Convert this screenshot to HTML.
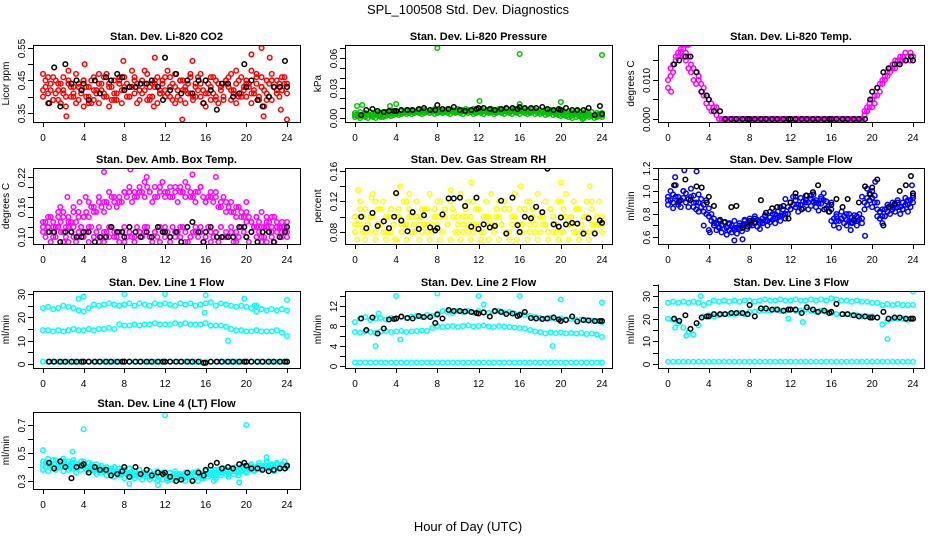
<!DOCTYPE html>
<html><head><meta charset="utf-8"><style>
html,body{margin:0;padding:0;background:#fff;}
svg{display:block;font-family:"Liberation Sans",Arial,sans-serif;}
</style></head><body>
<svg id="chart" width="936" height="540" viewBox="0 0 936 540">
<rect width="936" height="540" fill="#fff"/>
<text x="468" y="14" text-anchor="middle" font-size="13">SPL_100508  Std. Dev. Diagnostics</text>
<text x="468" y="531" text-anchor="middle" font-size="13">Hour of Day (UTC)</text>
</svg>
<script>
// shared black-point hours
const blackHours=[0.6,1.1,1.7,2.2,2.8,3.3,3.8,4.0,4.5,5.1,5.6,6.2,6.7,7.3,7.8,8.0,8.5,9.1,9.6,10.2,10.7,11.3,11.8,12.0,12.5,13.1,13.6,14.2,14.7,15.3,15.8,16.0,16.5,17.1,17.6,18.2,18.7,19.3,19.8,20.0,20.5,21.1,21.6,22.2,22.7,23.3,23.8,24.0];
const xTicks=[0,4,8,12,16,20,24];

// Panel 1 CO2
const co2A=[0.47,0.43,0.41,0.44,0.39,0.45,0.42,0.38,0.46,0.40,0.44,0.43,0.41,0.47,0.39,0.42,0.45,0.40,0.43,0.38,0.46,0.41,0.44,0.42,0.40,0.47,0.43,0.39,0.45,0.41,0.44,0.42,0.46,0.40,0.43,0.48,0.41,0.44,0.39,0.45,0.42,0.47,0.40,0.44,0.43,0.46,0.41,0.45,0.42,0.48,0.40,0.44,0.47,0.42,0.39,0.45,0.43,0.41,0.46,0.40,0.44,0.42,0.47,0.38,0.45,0.41,0.43,0.46,0.40,0.44,0.42,0.39,0.45,0.43,0.47,0.41,0.44,0.40,0.46,0.42,0.45,0.43,0.48,0.41,0.44,0.39,0.46,0.42,0.45,0.40,0.47,0.43,0.41,0.44,0.42,0.46,0.43];
const co2B=[0.40,0.45,0.38,0.42,0.46,0.41,0.39,0.44,0.42,0.37,0.45,0.40,0.43,0.38,0.44,0.41,0.37,0.43,0.40,0.45,0.39,0.42,0.38,0.44,0.46,0.40,0.37,0.43,0.41,0.39,0.45,0.38,0.42,0.44,0.40,0.43,0.46,0.38,0.42,0.41,0.44,0.39,0.43,0.40,0.45,0.38,0.42,0.44,0.40,0.41,0.46,0.39,0.43,0.40,0.45,0.42,0.38,0.44,0.41,0.39,0.43,0.46,0.40,0.42,0.37,0.44,0.39,0.41,0.45,0.38,0.43,0.40,0.44,0.46,0.39,0.42,0.38,0.45,0.41,0.43,0.40,0.44,0.38,0.42,0.46,0.40,0.43,0.37,0.41,0.44,0.39,0.43,0.45,0.40,0.42,0.44,0.41];
const co2C=[0.42,0.46,0.39,0.44,0.41,0.48,0.40,0.43,0.45,0.38,0.42,0.47,0.41,0.44,0.39,0.46,0.43,0.40,0.45,0.42,0.48,0.39,0.44,0.41,0.46,0.43,0.38,0.45,0.42,0.47,0.40,0.44,0.41,0.46,0.39,0.43,0.45,0.42,0.48,0.40,0.44,0.41,0.47,0.43,0.39,0.45,0.42,0.46,0.44];
const co2OutT=[2.3,4.1,7.9,11,13.7,14.7,20.5,21.5,21.7,22.3,24,23.4,10.9];
const co2OutV=[0.34,0.50,0.51,0.52,0.33,0.51,0.53,0.55,0.34,0.52,0.33,0.36,0.37];
const co2Black=[0.38,0.49,0.37,0.50,0.44,0.45,0.42,0.44,0.39,0.45,0.41,0.46,0.45,0.47,0.46,0.42,0.43,0.43,0.44,0.44,0.45,0.43,0.39,0.52,0.42,0.47,0.41,0.45,0.41,0.45,0.38,0.45,0.42,0.36,0.44,0.44,0.40,0.41,0.50,0.43,0.45,0.39,0.37,0.40,0.43,0.43,0.51,0.43];

// Panel 2 Pressure
const presA=[0.005,0.004,0.006,0.003,0.005,0.004,0.006,0.003,0.004,0.005,0.003,0.004,0.005,0.004,0.006,0.005,0.006,0.005,0.007,0.006,0.007,0.006,0.008,0.007,0.006,0.008,0.007,0.008,0.006,0.008,0.007,0.009,0.007,0.008,0.006,0.008,0.009,0.007,0.008,0.006,0.009,0.008,0.007,0.009,0.008,0.006,0.009,0.007,0.008,0.009,0.007,0.008,0.006,0.009,0.008,0.007,0.009,0.008,0.007,0.009,0.006,0.008,0.009,0.007,0.008,0.006,0.009,0.008,0.007,0.009,0.008,0.007,0.008,0.006,0.008,0.007,0.008,0.006,0.007,0.008,0.006,0.007,0.005,0.007,0.006,0.005,0.007,0.004,0.006,0.005,0.007,0.004,0.006,0.003,0.005,0.004,0.005];
const presB=[0.001,0.002,0.000,0.002,0.001,0.000,0.002,0.001,0.000,0.002,0.001,0.001,0.002,0.003,0.002,0.003,0.004,0.003,0.004,0.005,0.004,0.005,0.004,0.005,0.006,0.005,0.004,0.005,0.006,0.005,0.006,0.004,0.005,0.006,0.005,0.006,0.005,0.004,0.006,0.005,0.006,0.005,0.004,0.006,0.005,0.006,0.004,0.005,0.006,0.005,0.004,0.006,0.005,0.006,0.004,0.005,0.006,0.005,0.004,0.006,0.005,0.004,0.006,0.005,0.004,0.006,0.005,0.004,0.005,0.006,0.004,0.005,0.004,0.005,0.003,0.004,0.005,0.003,0.004,0.003,0.002,0.003,0.002,0.001,0.002,0.003,0.001,0.002,0.001,0.000,0.002,0.001,0.002,0.000,0.001,0.002,0.001];
const presC=[0.003,0.002,0.004,0.003,0.004,0.005,0.006,0.007,0.006,0.007,0.008,0.007,0.006,0.008,0.007,0.006,0.008,0.007,0.008,0.006,0.007,0.008,0.007,0.006,0.008,0.007,0.008,0.006,0.007,0.008,0.007,0.006,0.008,0.007,0.006,0.007,0.008,0.006,0.007,0.005,0.006,0.005,0.004,0.005,0.003,0.004,0.002,0.003,0.003];
const presOutT=[0.2,0.7,3.4,4.0,8.0,12.1,16.0,16.0,20.0,24.0,22.1,21.1];
const presOutV=[0.012,0.013,0.012,0.014,0.070,0.017,0.064,0.014,0.016,0.063,-0.001,0.0];
const presBlack=[0.003,0.008,0.009,0.007,0.006,0.007,0.007,0.007,0.008,0.008,0.008,0.009,0.010,0.008,0.008,0.013,0.009,0.009,0.011,0.008,0.007,0.008,0.009,0.010,0.010,0.009,0.008,0.009,0.010,0.010,0.009,0.011,0.010,0.010,0.010,0.011,0.009,0.008,0.009,0.008,0.010,0.008,0.008,0.008,0.010,0.003,0.012,0.004];

// Panel 3 Li-820 Temp
const tempA=[0.010,0.013,0.014,0.016,0.017,0.018,0.018,0.017,0.016,0.014,0.013,0.012,0.011,0.009,0.008,0.006,0.005,0.004,0.003,0.003,0.000,0,0,0,0,0,0,0,0,0,0,0,0,0,0,0,0,0,0,0,0,0,0,0,0,0,0,0,0,0,0,0,0,0,0,0,0,0,0,0,0,0,0,0,0,0,0,0,0,0,0,0,0,0,0,0,0,0.002,0.003,0.004,0.005,0.006,0.008,0.009,0.010,0.011,0.012,0.013,0.014,0.015,0.015,0.016,0.016,0.017,0.016,0.017,0.016];
const tempB=[0.008,0.011,0.012,0.015,0.016,0.017,0.016,0.015,0.013,0.012,0.010,0.009,0.010,0.007,0.006,0.004,0.003,0.002,0.002,0.001,0.000,0,0,0,0,0,0,0,0,0,0,0,0,0,0,0,0,0,0,0,0,0,0,0,0,0,0,0,0,0,0,0,0,0,0,0,0,0,0,0,0,0,0,0,0,0,0,0,0,0,0,0,0,0,0,0,0,0.001,0.002,0.003,0.003,0.004,0.006,0.007,0.009,0.010,0.011,0.012,0.013,0.013,0.014,0.015,0.015,0.015,0.016,0.015,0.016];
const tempOutT=[0.3,1.8,2.0];
const tempOutV=[0.007,0.019,0.019];
const tempBlack=[0.014,0.015,0.016,0.016,0.012,0.007,0.006,0.005,0.002,0.002,0,0,0,0,0,0,0,0,0,0,0,0,0,0,0,0,0,0,0,0,0,0,0,0,0,0,0,0,0.005,0.007,0.008,0.012,0.013,0.014,0.014,0.015,0.016,0.015];

// Panel 4 Amb Box Temp
const boxA=[0.12,0.13,0.12,0.14,0.13,0.12,0.14,0.13,0.15,0.12,0.14,0.13,0.15,0.13,0.14,0.12,0.14,0.15,0.14,0.16,0.15,0.15,0.17,0.16,0.15,0.17,0.16,0.18,0.17,0.16,0.18,0.17,0.19,0.18,0.19,0.17,0.19,0.18,0.20,0.19,0.18,0.20,0.19,0.17,0.20,0.18,0.19,0.21,0.18,0.19,0.20,0.18,0.19,0.17,0.20,0.19,0.18,0.20,0.19,0.18,0.17,0.19,0.20,0.18,0.17,0.18,0.19,0.17,0.18,0.16,0.17,0.18,0.15,0.16,0.17,0.15,0.14,0.16,0.15,0.14,0.13,0.14,0.13,0.12,0.14,0.13,0.15,0.12,0.14,0.13,0.12,0.14,0.13,0.12,0.11,0.12,0.13];
const boxB=[0.11,0.10,0.12,0.09,0.11,0.10,0.12,0.11,0.09,0.10,0.12,0.11,0.10,0.09,0.11,0.12,0.10,0.11,0.09,0.12,0.10,0.11,0.12,0.10,0.09,0.11,0.10,0.12,0.11,0.10,0.09,0.11,0.12,0.10,0.11,0.10,0.09,0.12,0.11,0.10,0.11,0.12,0.10,0.09,0.11,0.10,0.12,0.11,0.10,0.11,0.09,0.12,0.10,0.11,0.10,0.12,0.11,0.09,0.10,0.11,0.12,0.10,0.11,0.09,0.10,0.12,0.11,0.10,0.11,0.09,0.12,0.10,0.11,0.10,0.12,0.09,0.11,0.10,0.12,0.11,0.10,0.09,0.11,0.12,0.10,0.11,0.09,0.10,0.12,0.11,0.10,0.09,0.11,0.10,0.12,0.11,0.10];
const boxC=[0.13,0.14,0.12,0.15,0.14,0.13,0.16,0.15,0.14,0.17,0.16,0.18,0.17,0.19,0.18,0.17,0.19,0.20,0.18,0.19,0.21,0.19,0.18,0.20,0.19,0.18,0.20,0.19,0.21,0.18,0.19,0.20,0.17,0.18,0.19,0.16,0.17,0.15,0.16,0.14,0.15,0.13,0.14,0.12,0.13,0.14,0.12,0.13,0.12];
const boxD=[0.12,0.11,0.10,0.12,0.11,0.09,0.12,0.10,0.11,0.12,0.10,0.09,0.11,0.12,0.10,0.11,0.09,0.12,0.10,0.11,0.12,0.10,0.11,0.09,0.12,0.10,0.11,0.12,0.09,0.10,0.11,0.12,0.10,0.09,0.11,0.12,0.10,0.11,0.09,0.12,0.10,0.11,0.12,0.10,0.09,0.11,0.12,0.10,0.11];
const boxOutT=[2.4,3.6,4.2,6,8.6,10.2,14.7,17,20,18.6,1.7];
const boxOutV=[0.18,0.17,0.18,0.23,0.235,0.22,0.225,0.22,0.17,0.08,0.16];
const boxBlack=[0.11,0.11,0.09,0.11,0.11,0.10,0.10,0.11,0.11,0.09,0.10,0.10,0.12,0.11,0.11,0.10,0.12,0.11,0.10,0.11,0.10,0.12,0.11,0.11,0.10,0.11,0.09,0.12,0.13,0.11,0.09,0.11,0.12,0.10,0.10,0.10,0.10,0.12,0.12,0.10,0.11,0.09,0.11,0.11,0.09,0.10,0.11,0.12];

// Panel 5 Gas Stream RH
const rhA=[0.10,0.09,0.12,0.08,0.11,0.09,0.10,0.13,0.08,0.11,0.09,0.12,0.10,0.08,0.11,0.09,0.13,0.10,0.08,0.12,0.09,0.11,0.10,0.08,0.12,0.09,0.10,0.11,0.08,0.13,0.09,0.11,0.10,0.12,0.08,0.10,0.09,0.12,0.11,0.08,0.10,0.13,0.09,0.11,0.08,0.10,0.12,0.09,0.11,0.08,0.10,0.12,0.09,0.13,0.08,0.11,0.10,0.09,0.12,0.08,0.11,0.10,0.13,0.09,0.11,0.08,0.10,0.12,0.09,0.11,0.08,0.13,0.10,0.09,0.12,0.08,0.11,0.10,0.09,0.12,0.08,0.11,0.13,0.09,0.10,0.12,0.08,0.11,0.09,0.10,0.12,0.08,0.11,0.09,0.10,0.12,0.09];
const rhB=[0.08,0.07,0.09,0.10,0.07,0.09,0.08,0.10,0.07,0.09,0.11,0.08,0.07,0.10,0.08,0.09,0.07,0.11,0.08,0.09,0.07,0.10,0.08,0.09,0.10,0.07,0.08,0.09,0.11,0.07,0.08,0.10,0.09,0.07,0.08,0.11,0.09,0.07,0.10,0.08,0.09,0.07,0.08,0.10,0.09,0.07,0.08,0.11,0.09,0.07,0.08,0.10,0.07,0.09,0.08,0.10,0.07,0.09,0.11,0.08,0.07,0.09,0.10,0.07,0.08,0.09,0.11,0.07,0.08,0.10,0.09,0.07,0.08,0.10,0.09,0.07,0.11,0.08,0.09,0.07,0.10,0.08,0.09,0.07,0.10,0.08,0.11,0.07,0.09,0.08,0.10,0.07,0.09,0.08,0.10,0.09,0.08];
const rhC=[0.09,0.11,0.08,0.10,0.12,0.09,0.08,0.11,0.10,0.09,0.12,0.08,0.10,0.11,0.09,0.08,0.12,0.10,0.09,0.11,0.08,0.10,0.12,0.09,0.11,0.08,0.10,0.09,0.12,0.11,0.08,0.10,0.09,0.11,0.12,0.08,0.10,0.09,0.11,0.08,0.12,0.10,0.09,0.11,0.08,0.10,0.12,0.09,0.10];
const rhOutT=[0.3,1.6,3.9,4.4,11.3,12.3,20,22.8,16.1,5.3,9.3,15.6];
const rhOutV=[0.135,0.125,0.07,0.14,0.145,0.065,0.145,0.14,0.14,0.13,0.135,0.065];
const rhBlack=[0.100,0.085,0.105,0.088,0.094,0.085,0.100,0.131,0.095,0.081,0.106,0.084,0.102,0.086,0.082,0.085,0.103,0.124,0.124,0.125,0.114,0.087,0.125,0.084,0.090,0.086,0.088,0.121,0.078,0.125,0.089,0.080,0.100,0.098,0.113,0.106,0.163,0.090,0.087,0.099,0.090,0.092,0.091,0.078,0.098,0.078,0.095,0.092];

// Panel 6 Sample Flow
const sfA=[0.95,1.00,0.90,1.05,0.95,0.92,1.00,0.98,0.93,1.02,0.96,0.90,0.97,0.93,0.88,0.92,0.85,0.80,0.76,0.72,0.74,0.70,0.73,0.68,0.72,0.70,0.74,0.68,0.72,0.70,0.75,0.72,0.76,0.74,0.78,0.75,0.72,0.76,0.79,0.74,0.77,0.80,0.76,0.82,0.78,0.84,0.80,0.86,0.90,0.95,0.92,0.88,0.94,0.91,0.96,0.90,0.93,0.97,0.92,0.89,0.95,0.98,0.91,0.87,0.90,0.76,0.80,0.74,0.82,0.78,0.75,0.80,0.77,0.79,0.74,0.80,0.76,0.90,0.94,0.98,1.00,0.96,0.90,0.82,0.78,0.84,0.88,0.86,0.90,0.88,0.92,0.86,0.90,0.94,0.88,0.92,0.96];
const sfB=[0.88,0.92,0.85,0.95,0.90,0.86,0.94,0.90,0.86,0.95,0.90,0.84,0.90,0.86,0.82,0.80,0.78,0.74,0.70,0.66,0.68,0.64,0.67,0.62,0.66,0.64,0.68,0.63,0.67,0.65,0.70,0.67,0.70,0.70,0.72,0.69,0.67,0.72,0.74,0.70,0.73,0.75,0.72,0.77,0.74,0.79,0.76,0.80,0.84,0.88,0.86,0.82,0.88,0.85,0.90,0.84,0.87,0.91,0.86,0.83,0.89,0.92,0.85,0.82,0.84,0.70,0.74,0.68,0.76,0.72,0.70,0.74,0.72,0.74,0.70,0.75,0.72,0.84,0.88,0.92,0.94,0.90,0.84,0.76,0.72,0.78,0.82,0.80,0.84,0.82,0.86,0.80,0.84,0.88,0.82,0.86,0.90];
const sfC=[0.92,0.97,0.88,1.00,0.93,0.86,0.82,0.70,0.66,0.72,0.69,0.73,0.71,0.66,0.70,0.74,0.72,0.76,0.74,0.78,0.82,0.80,0.86,0.93,0.90,0.95,0.88,0.92,0.96,0.90,0.93,0.85,0.74,0.78,0.76,0.80,0.73,0.78,0.95,1.02,0.86,0.78,0.84,0.88,0.86,0.90,0.84,0.92,0.94];
const sfOutT=[1.6,2.8,0.7,4.1,6.5,7.3,17.9,19.3,20.3,23.9];
const sfOutV=[1.18,1.17,1.12,0.64,0.57,0.58,0.66,0.61,1.08,1.05];
const sfBlack=[1.05,0.91,1.10,0.92,1.04,1.03,0.90,0.95,0.87,0.75,0.73,0.86,0.87,0.68,0.69,0.74,0.73,0.92,0.81,0.85,0.86,0.87,0.76,0.90,0.98,0.84,0.96,0.99,1.05,0.84,0.82,0.88,0.93,0.86,0.93,0.75,0.90,1.04,0.97,1.03,1.10,0.70,0.86,0.89,1.00,1.05,1.13,0.98];

// Panel 7 Line 1 Flow
const l1U=[24,24.5,23.5,24,25,24.5,24,23,22.5,24,25.5,25,25.5,26,25.5,25,25.5,26,25,26,25.5,25,26,25.5,26,25.5,25,26,25.5,26,25,25.5,26,26.5,25,26,25.5,25,24.5,25,24.5,24,25,23.5,23,23.5,23,23.5,23];
const l1M=[14.5,14.5,14,14.5,14,14.5,15,14.5,14.5,15,14.5,15,15,15.5,15,17,16.5,16.5,17,16.5,17,17,17.5,17,17,17,17.5,17,17.5,17,17,17,17.5,16.5,16.5,16.5,16,15,14.5,14.5,14,14,14.5,14,14,14,14.5,13.5,12];
const l1L=[1,1,1,1,1,1,1,1,1,1,1,1,1,1,1,1,1,1,1,1,1,1,1,1,1,1,1,1,1,1,1,1,1,1,1,1,1,1,1,1,1,1,1,1,1,1,1,1,1];
const l1OutT=[3.5,4,8,12,16,19.8,18.2,24,15.9,7.5,20.8,21];
const l1OutV=[28,29,30,30,29.5,28,10,27.5,22,25,25,22.5];
const l1Black=[1,1,1,1,1,1,1,1,1,1,1,1,1,1,1,1,1,1,1,1,1,1,1,1,1,1,1,1,1,1,0.5,0.5,1,1,1,1,1,1,1,1,1,1,1,1,1,1,1,1];

// Panel 8 Line 2 Flow
const l2U=[8.8,9.5,9.8,9.2,9.5,9.6,9.3,9.6,9.5,9.8,9.6,9.9,10,9.8,10.2,10,10.5,11,10.8,10.6,11,10.8,11,10.7,11,10.8,10.6,10.9,11,10.7,10.8,10.5,10.4,10.2,10,9.8,9.6,9.5,9.6,9.4,9.5,9.3,9.4,9.2,9.3,9.2,9.1,9,8.8];
const l2M=[6.8,6.7,6.9,6.8,6.6,6.9,7,6.8,6.9,7,6.8,6.9,7,7.1,7,7.6,8,7.8,7.9,8,7.8,8,8.1,7.9,8,8.1,7.9,7.8,8,7.9,7.8,7.7,7.6,7.5,7.2,6.9,6.8,6.5,6.7,6.6,6.7,6.5,6.6,6.5,6.6,6.4,6.5,6.3,5.8];
const l2L=[0.7,0.7,0.7,0.7,0.7,0.7,0.7,0.7,0.7,0.7,0.7,0.7,0.7,0.7,0.7,0.7,0.7,0.7,0.7,0.7,0.7,0.7,0.7,0.7,0.7,0.7,0.7,0.7,0.7,0.7,0.7,0.7,0.7,0.7,0.7,0.7,0.7,0.7,0.7,0.7,0.7,0.7,0.7,0.7,0.7,0.7,0.7,0.7,0.7];
const l2OutT=[2,4,4.4,8,12,16,19.2,20,24,2.3,12.5];
const l2OutV=[4,14,5.3,14.5,14,14,4,13.3,12.7,10.5,12.3];
const l2Black=[9.5,7.2,9.7,6.5,7.5,9.3,9.4,9.5,9.9,9.6,9.5,10.0,9.8,9.8,8.6,10.3,9.5,11.2,11.0,11.0,10.9,10.8,10.6,10.5,10.7,9.9,11.0,10.8,10.4,10.5,10.0,10.2,10.8,9.6,9.5,9.4,9.5,9.7,9.3,9.0,9.2,9.9,8.9,9.2,9.1,9.0,9.0,9.0];

// Panel 9 Line 3 Flow
const l3U=[27,27.5,27,27.5,27,27.5,27,26,27,28,27.5,28,27.5,28,27.5,28,28,27.5,28,28.5,28,28,28.5,28,28,28.5,28,28,28.5,28,28.5,28,29,28.5,28,28,27.5,28,27.5,27.5,27,27,26,26.5,26,26.5,26,26,26];
const l3M=[20,19.5,18,16,14,13,17,21,21.5,21,21.5,22,22,22,22.5,22,23,23,23.5,23.5,23.5,24,23.5,23.5,24,23.5,23.5,24,23.5,23,23.5,23,22.5,22,22,22,21.5,21.5,21,21,21,20.5,17.5,19,20,20,20,19.5,20];
const l3L=[1,1,1,1,1,1,1,1,1,1,1,1,1,1,1,1,1,1,1,1,1,1,1,1,1,1,1,1,1,1,1,1,1,1,1,1,1,1,1,1,1,1,1,1,1,1,1,1,1];
const l3OutT=[0.7,1.8,4,8,12,16,20,21.5,24,13.2,3.2,11.8];
const l3OutV=[16,12.5,33.5,35,34.5,33.5,33.5,11,32,18.5,30,20];
const l3Black=[20,19,21.5,15.5,18,20.5,21,21,22,22,22,22.5,22.5,22.5,22,26,21,24.5,24.5,24,24,23.5,24,24,24,22.5,25,24,23,23.5,22.5,23,26.5,22,22,21.5,21,21,20.5,20.5,20.5,23,20,20.5,20.5,20,20,20];

// Panel 10 Line 4 (LT) Flow
const l4A=[0.44,0.40,0.46,0.42,0.39,0.45,0.43,0.40,0.46,0.41,0.44,0.39,0.45,0.42,0.40,0.44,0.41,0.38,0.43,0.40,0.37,0.42,0.39,0.41,0.37,0.40,0.38,0.36,0.40,0.37,0.39,0.35,0.38,0.36,0.39,0.34,0.37,0.35,0.38,0.34,0.36,0.33,0.37,0.35,0.34,0.37,0.33,0.36,0.34,0.32,0.36,0.34,0.37,0.33,0.35,0.32,0.36,0.34,0.33,0.36,0.34,0.37,0.35,0.33,0.37,0.35,0.38,0.36,0.34,0.38,0.36,0.39,0.37,0.35,0.39,0.37,0.40,0.36,0.38,0.41,0.37,0.39,0.42,0.38,0.40,0.43,0.39,0.41,0.44,0.40,0.42,0.38,0.43,0.40,0.42,0.39,0.41];
const l4B=[0.38,0.43,0.37,0.41,0.45,0.38,0.40,0.44,0.37,0.42,0.38,0.43,0.39,0.36,0.42,0.38,0.44,0.40,0.36,0.42,0.38,0.35,0.40,0.36,0.39,0.34,0.37,0.39,0.33,0.36,0.34,0.38,0.32,0.35,0.33,0.37,0.32,0.35,0.33,0.31,0.35,0.33,0.31,0.34,0.32,0.30,0.33,0.31,0.34,0.30,0.33,0.31,0.32,0.35,0.31,0.34,0.30,0.33,0.35,0.31,0.33,0.30,0.34,0.32,0.35,0.33,0.36,0.34,0.32,0.36,0.34,0.37,0.35,0.33,0.37,0.35,0.38,0.34,0.37,0.39,0.36,0.38,0.40,0.37,0.39,0.41,0.38,0.40,0.43,0.39,0.41,0.37,0.42,0.39,0.41,0.44,0.40];
const l4C=[0.41,0.43,0.40,0.42,0.44,0.41,0.43,0.40,0.42,0.38,0.39,0.37,0.38,0.36,0.37,0.35,0.36,0.35,0.34,0.35,0.34,0.33,0.35,0.34,0.34,0.33,0.35,0.34,0.33,0.35,0.36,0.35,0.37,0.36,0.38,0.37,0.38,0.39,0.38,0.40,0.39,0.38,0.40,0.39,0.41,0.40,0.42,0.41,0.40];
const l4OutT=[0,4,12,20,2.9,8.5,11.3,19.3,16.8,22];
const l4OutV=[0.52,0.67,0.77,0.70,0.51,0.28,0.27,0.29,0.30,0.47];
const l4Black=[0.43,0.39,0.44,0.40,0.32,0.40,0.41,0.42,0.36,0.40,0.38,0.38,0.34,0.35,0.37,0.40,0.33,0.40,0.35,0.38,0.34,0.36,0.35,0.36,0.33,0.30,0.31,0.36,0.30,0.36,0.34,0.38,0.41,0.43,0.39,0.40,0.39,0.42,0.43,0.41,0.39,0.39,0.38,0.37,0.38,0.39,0.39,0.41];

// tick arrays
const co2Ticks=[0.35,0.40,0.45,0.50,0.55], co2Labels=["0.35","","0.45","","0.55"];
const presTicks=[0,0.01,0.02,0.03,0.04,0.05,0.06,0.07], presLabels=["0.00","","","0.03","","","0.06",""];
const tempTicks=[0,0.005,0.010,0.015], tempLabels=["0.000","","0.010",""];
const boxTicks=[0.10,0.12,0.14,0.16,0.18,0.20,0.22], boxLabels=["0.10","","","0.16","","","0.22"];
const rhTicks=[0.08,0.10,0.12,0.14,0.16], rhLabels=["0.08","","0.12","","0.16"];
const sfTicks=[0.6,0.7,0.8,0.9,1.0,1.1,1.2], sfLabels=["0.6","","0.8","","1.0","","1.2"];
const l1Ticks=[0,5,10,15,20,25,30], l1Labels=["0","","10","","20","","30"];
const l2Ticks=[0,2,4,6,8,10,12,14], l2Labels=["0","","4","","8","","12",""];
const l3Ticks=[0,5,10,15,20,25,30,35], l3Labels=["0","","10","","20","","30",""];
const l4Ticks=[0.3,0.4,0.5,0.6,0.7], l4Labels=["0.3","","0.5","","0.7"];

const NS="http://www.w3.org/2000/svg";
const svg=document.getElementById('chart');
const colL=[33,345,658], colR=[300,612,924], x0=[43,355,668], x24=[287,602,913];
const rowT=[45,168,291,412], rowB=[122,244,368,489];

const panels=[
 {key:'co2',title:'Stan. Dev. Li-820 CO2',ylab:'Licor ppm',c:0,r:0,lo:0.3223,hi:0.559,col:'#ff0000',rows:[co2A,co2B,co2C],ot:co2OutT,ov:co2OutV,blk:co2Black,ticks:co2Ticks,labels:co2Labels},
 {key:'pressure',title:'Stan. Dev. Li-820 Pressure',ylab:'kPa',c:1,r:0,lo:-0.004,hi:0.073,col:'#00c000',rows:[presA,presB,presC],ot:presOutT,ov:presOutV,blk:presBlack,ticks:presTicks,labels:presLabels},
 {key:'li820-temp',title:'Stan. Dev. Li-820 Temp.',ylab:'degrees C',c:2,r:0,lo:-0.00077,hi:0.01897,col:'#ff00ff',rows:[tempA,tempB],ot:tempOutT,ov:tempOutV,blk:tempBlack,ticks:tempTicks,labels:tempLabels},
 {key:'box-temp',title:'Stan. Dev. Amb. Box Temp.',ylab:'degrees C',c:0,r:1,lo:0.086,hi:0.238,col:'#ff00ff',rows:[boxA,boxB,boxC,boxD],ot:boxOutT,ov:boxOutV,blk:boxBlack,ticks:boxTicks,labels:boxLabels},
 {key:'rh',title:'Stan. Dev. Gas Stream RH',ylab:'percent',c:1,r:1,lo:0.0643,hi:0.1639,col:'#ffff00',rows:[rhA,rhB,rhC],ot:rhOutT,ov:rhOutV,blk:rhBlack,ticks:rhTicks,labels:rhLabels},
 {key:'sample-flow',title:'Stan. Dev. Sample Flow',ylab:'ml/min',c:2,r:1,lo:0.539,hi:1.2,col:'#0000ff',rows:[sfA,sfB,sfC],ot:sfOutT,ov:sfOutV,blk:sfBlack,ticks:sfTicks,labels:sfLabels},
 {key:'line1',title:'Stan. Dev. Line 1 Flow',ylab:'ml/min',c:0,r:2,lo:-1.7,hi:31.3,col:'#00ffff',rows:[l1U,l1M,l1L],ot:l1OutT,ov:l1OutV,blk:l1Black,ticks:l1Ticks,labels:l1Labels},
 {key:'line2',title:'Stan. Dev. Line 2 Flow',ylab:'ml/min',c:1,r:2,lo:-0.4,hi:15,col:'#00ffff',rows:[l2U,l2M,l2L],ot:l2OutT,ov:l2OutV,blk:l2Black,ticks:l2Ticks,labels:l2Labels},
 {key:'line3',title:'Stan. Dev. Line 3 Flow',ylab:'ml/min',c:2,r:2,lo:-1.76,hi:32.2,col:'#00ffff',rows:[l3U,l3M,l3L],ot:l3OutT,ov:l3OutV,blk:l3Black,ticks:l3Ticks,labels:l3Labels},
 {key:'line4',title:'Stan. Dev. Line 4 (LT) Flow',ylab:'ml/min',c:0,r:3,lo:0.243,hi:0.793,col:'#00ffff',rows:[l4A,l4B,l4C],ot:l4OutT,ov:l4OutV,blk:l4Black,ticks:l4Ticks,labels:l4Labels}
];

function mk(tag,attrs,parent){const e=document.createElementNS(NS,tag);for(const k in attrs)e.setAttribute(k,attrs[k]);(parent||svg).appendChild(e);return e;}

panels.forEach(p=>{
  const L=colL[p.c],R=colR[p.c],T=rowT[p.r],B=rowB[p.r];
  const xs=h=>x0[p.c]+(x24[p.c]-x0[p.c])*h/24;
  const ys=v=>B-(v-p.lo)/(p.hi-p.lo)*(B-T);
  const g=mk('g',{});
  
  
  const t=mk('text',{x:(L+R)/2,y:T-5,'text-anchor':'middle','font-size':'11','font-weight':'bold'},g);
  t.textContent=p.title;
  
  
  const yl=mk('text',{x:0,y:0,'text-anchor':'middle','font-size':'10',transform:`translate(${L-24},${(T+B)/2}) rotate(-90)`},g);
  yl.textContent=p.ylab;
  
  
  const cp=mk('clipPath',{id:'clip'+p.key},g);
  mk('rect',{x:L,y:T,width:R-L,height:B-T},cp);
  const pts=mk('g',{'clip-path':`url(#clip${p.key})`,fill:'none','stroke-width':'1.5'},g);
  
  
  p.rows.forEach(arr=>{
    const n=arr.length;
    arr.forEach((v,i)=>{
      const c=mk('circle',{cx:xs(i*24/(n-1)),cy:ys(v),r:2.3,stroke:p.col},pts);
      
      
    });
  });
  p.ot.forEach((h,i)=>{
    const c=mk('circle',{cx:xs(h),cy:ys(p.ov[i]),r:2.3,stroke:p.col},pts);
    
    
  });
  p.blk.forEach((v,i)=>{
    const c=mk('circle',{cx:xs(blackHours[i]),cy:ys(v),r:2.3,stroke:'#000'},pts);
    
    
  });
  const box=mk('rect',{x:L+0.5,y:T+0.5,width:R-L,height:B-T,fill:'none',stroke:'#000','stroke-width':'1'},g);
  
  
  const xa=mk('g',{},g);
  
  
  mk('line',{x1:xs(0),x2:xs(24),y1:B+0.5,y2:B+0.5,stroke:'#000'},xa);
  xTicks.forEach(h=>{
    mk('line',{x1:Math.round(xs(h))+0.5,x2:Math.round(xs(h))+0.5,y1:B,y2:B+5,stroke:'#000'},xa);
    const tl=mk('text',{x:xs(h),y:B+19,'text-anchor':'middle','font-size':'10'},xa);
    tl.textContent=String(h);
    
    
  });
  const ya=mk('g',{},g);
  
  
  mk('line',{x1:L+0.5,x2:L+0.5,y1:ys(p.ticks[0]),y2:ys(p.ticks[p.ticks.length-1]),stroke:'#000'},ya);
  p.ticks.forEach((v,i)=>{
    const y=Math.round(ys(v))+0.5;
    mk('line',{x1:L-5,x2:L,y1:y,y2:y,stroke:'#000'},ya);
    if(p.labels[i]){
      const tl=mk('text',{x:0,y:0,'text-anchor':'middle','font-size':'10',transform:`translate(${L-8},${y}) rotate(-90)`},ya);
      tl.textContent=p.labels[i];
      
      
    }
  });
});
</script>
</body></html>
